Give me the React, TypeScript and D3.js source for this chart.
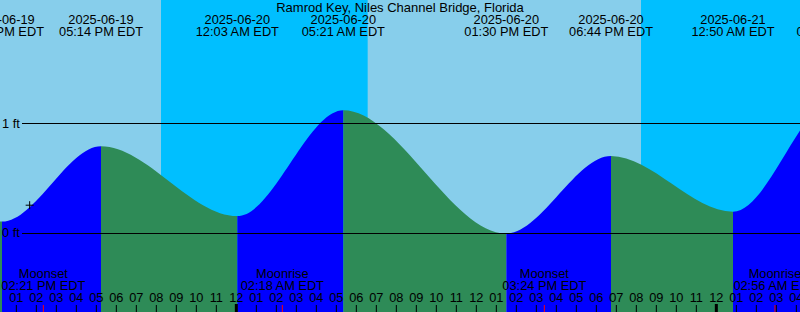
import React from "react";
import * as d3 from "d3";

const W = 800;
const H = 312;
const title = "Ramrod Key, Niles Channel Bridge, Florida";

// Tide extremes (local EDT) and heights in ft
const tideTimes = [
  "2025-06-19 05:40",
  "2025-06-19 12:17",
  "2025-06-19 17:14",
  "2025-06-20 00:03",
  "2025-06-20 05:21",
  "2025-06-20 13:30",
  "2025-06-20 18:44",
  "2025-06-21 00:50",
  "2025-06-21 06:05",
  "2025-06-21 13:20",
];
const tideHeights = [1.05, 0.1, 0.79, 0.15, 1.12, -0.01, 0.7, 0.19, 1.25, -0.05];

// Sun events
const sunTimes = ["2025-06-19 06:33", "2025-06-19 20:14", "2025-06-20 06:34", "2025-06-20 20:14", "2025-06-21 06:34"];
const sunEvents = ["rise", "set", "rise", "set", "rise"];

// Moon events
const moonTimes = ["2025-06-19 14:21", "2025-06-20 02:18", "2025-06-20 15:24", "2025-06-21 02:56"];
const moonEvents = ["Moonset", "Moonrise", "Moonset", "Moonrise"];

// Current time marker
const nowTime = "2025-06-19 13:40";
const nowHeight = 0.25;

// Axis
const domainTimes = ["2025-06-19 12:11", "2025-06-21 04:11"];
const yTicks = [0, 1];
const yTickLabels = ["0 ft", "1 ft"];

const parse = d3.timeParse("%Y-%m-%d %H:%M");
const fmtDate = d3.timeFormat("%Y-%m-%d");
const fmtTime = d3.timeFormat("%I:%M %p EDT");
const fmtHour = d3.timeFormat("%I");

const FONT = "'Liberation Sans', Arial, sans-serif";
const FS = 12.8;

export default function App() {
  const x = d3
    .scaleTime()
    .domain(domainTimes.map((s) => parse(s) as Date))
    .range([0, W]);
  const y = d3.scaleLinear().domain([0, 1]).range([232.5, 123.3]);

  const tide = tideTimes.map((s, i) => ({ t: parse(s) as Date, v: tideHeights[i] }));
  const area = d3
    .area<{ t: Date; v: number }>()
    .x((d) => x(d.t))
    .y0(H)
    .y1((d) => y(d.v))
    .curve(d3.curveMonotoneX);
  const areaPath = area(tide) || "";

  const sun = sunTimes.map((s, i) => ({ t: parse(s) as Date, e: sunEvents[i] }));
  const nights: { a: number; b: number }[] = [];
  sun.forEach((s, i) => {
    if (s.e === "set") {
      const next = sun[i + 1];
      nights.push({ a: x(s.t), b: next ? x(next.t) : W });
    }
  });

  const moon = moonTimes.map((s, i) => ({ t: parse(s) as Date, e: moonEvents[i] }));
  const hours = x.ticks(d3.timeHour.every(1) as any);
  const now = parse(nowTime) as Date;

  return (
    <svg width={W} height={H} style={{ position: "absolute", left: 0, top: 0, display: "block" }} fontFamily={FONT}>
      <defs>
        {tide.slice(0, -1).map((d, i) => (
          <clipPath id={`seg${i}`} key={i}>
            <rect x={x(d.t)} y={0} width={Math.max(0, x(tide[i + 1].t) - x(d.t))} height={H} />
          </clipPath>
        ))}
      </defs>
      <rect x={0} y={0} width={W} height={H} fill="#87ceeb" />
      {nights.map((n, i) => (
        <rect key={i} x={n.a} y={0} width={n.b - n.a} height={H} fill="#00bfff" />
      ))}
      {tide.slice(0, -1).map((d, i) => (
        <path
          key={i}
          d={areaPath}
          clipPath={`url(#seg${i})`}
          fill={tide[i + 1].v > d.v ? "#0000ff" : "#2e8b57"}
        />
      ))}
      {yTicks.map((v, i) => (
        <g key={i}>
          <line x1={22} x2={W} y1={Math.round(y(v)) + 0.5} y2={Math.round(y(v)) + 0.5} stroke="#000" strokeWidth={1} />
          <text x={2} y={y(v) + 4.5} fontSize={FS} fill="#000">
            {yTickLabels[i]}
          </text>
        </g>
      ))}
      <text x={W / 2} y={12} fontSize={13} textAnchor="middle" fill="#000">
        {title}
      </text>
      {tide.map((d, i) => (
        <g key={i}>
          <text x={x(d.t)} y={23.5} fontSize={FS} textAnchor="middle" fill="#000">
            {fmtDate(d.t)}
          </text>
          <text x={x(d.t)} y={36} fontSize={FS} textAnchor="middle" fill="#000">
            {fmtTime(d.t)}
          </text>
        </g>
      ))}
      {moon.map((m, i) => (
        <g key={i}>
          <text x={x(m.t)} y={278} fontSize={FS} textAnchor="middle" fill="#000">
            {m.e}
          </text>
          <text x={x(m.t)} y={290} fontSize={FS} textAnchor="middle" fill="#000">
            {fmtTime(m.t)}
          </text>
          <line x1={x(m.t)} x2={x(m.t)} y1={305} y2={H} stroke="#ff0000" strokeWidth={1} />
        </g>
      ))}
      {hours.map((h, i) => {
        const mid = h.getHours() === 0;
        const hx = x(h);
        return (
          <g key={i}>
            <text x={hx} y={301.5} fontSize={FS} textAnchor="middle" fill="#000">
              {fmtHour(h)}
            </text>
            <line
              x1={hx}
              x2={hx}
              y1={mid ? 304 : 305}
              y2={H}
              stroke="#000"
              strokeWidth={mid ? 3 : 1}
            />
          </g>
        );
      })}
      <g stroke="#000" strokeWidth={1}>
        <line x1={x(now) - 4} x2={x(now) + 4} y1={y(nowHeight)} y2={y(nowHeight)} />
        <line x1={x(now)} x2={x(now)} y1={y(nowHeight) - 4} y2={y(nowHeight) + 4} />
      </g>
    </svg>
  );
}
